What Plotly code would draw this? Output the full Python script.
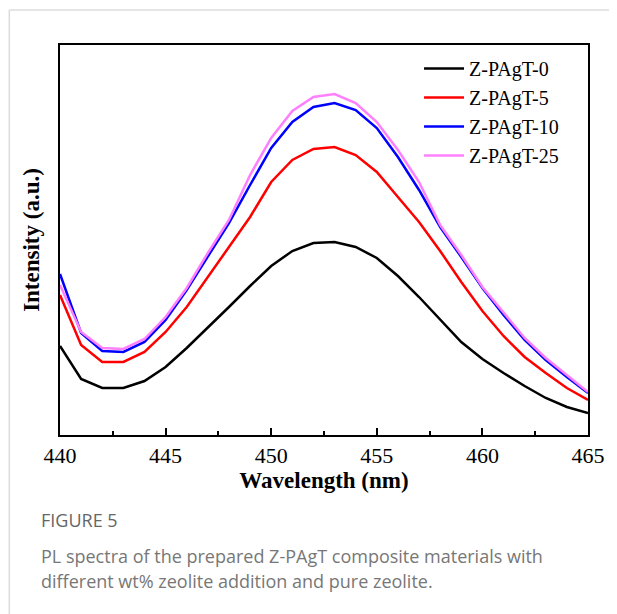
import plotly.graph_objects as go

# wavelength (nm) and PL intensity (a.u.)
wavelength = list(range(440, 466))
z_pagt_0 = [89, 56, 47, 47, 54, 68, 87, 107, 128, 149, 169, 184, 192, 193, 188, 177,
            159, 138, 115, 93, 76, 62, 49, 37, 28, 22]
z_pagt_5 = [140, 90, 73, 73, 83, 103, 128, 158, 188, 218, 253, 275, 286, 288, 280, 263,
            238, 213, 184, 153, 124, 99, 78, 62, 47, 35]
z_pagt_10 = [161, 102, 84, 83, 93, 115, 145, 178, 212, 250, 287, 313, 328, 332, 325, 307,
             278, 245, 208, 178, 147, 120, 95, 75, 58, 42]
z_pagt_25 = [150, 103, 87, 86, 96, 118, 147, 182, 215, 260, 297, 324, 338, 341, 332, 313,
             285, 253, 210, 180, 148, 122, 97, 77, 60, 43]

series = [
    ("Z-PAgT-0", z_pagt_0, "#000000"),
    ("Z-PAgT-5", z_pagt_5, "#ff0000"),
    ("Z-PAgT-10", z_pagt_10, "#0000ff"),
    ("Z-PAgT-25", z_pagt_25, "#ff80ff"),
]

serif = "Liberation Serif, Times New Roman, serif"
sans = "Open Sans, Noto Sans, sans-serif"

fig = go.Figure()
for name, vals, col in series:
    fig.add_trace(go.Scatter(x=wavelength, y=vals, mode="lines", name=name,
                             line=dict(color=col, width=2.5)))

# page body has an 8px margin, so the figure is 8px smaller than the window
fig.update_layout(
    width=609, height=606,
    margin=dict(l=52, r=27, t=37, b=179),
    paper_bgcolor="white", plot_bgcolor="white",
    showlegend=True,
    legend=dict(x=0.68, y=0.99, xanchor="left", yanchor="top",
                font=dict(family=serif, size=20, color="black"),
                bgcolor="rgba(0,0,0,0)", tracegroupgap=0, itemwidth=40),
    font=dict(family=serif, color="black"),
)

fig.update_xaxes(
    range=[440, 465], tickvals=[440, 445, 450, 455, 460, 465],
    ticks="inside", ticklen=7, tickwidth=1.5, tickcolor="black",
    minor=dict(tickvals=[442.5, 447.5, 452.5, 457.5, 462.5], ticks="inside",
               ticklen=4, tickwidth=1.5, tickcolor="black"),
    showline=True, linecolor="black", linewidth=1.5, mirror=True,
    showgrid=False, zeroline=False,
    tickfont=dict(family=serif, size=22, color="black"),
    title=dict(text="<b>Wavelength (nm)</b>", standoff=4,
               font=dict(family=serif, size=23, color="black")),
)
fig.update_yaxes(
    range=[0, 390], showticklabels=False, ticks="",
    showline=True, linecolor="black", linewidth=1.5, mirror=True,
    showgrid=False, zeroline=False,
    title=dict(text="<b>Intensity (a.u.)</b>", standoff=12,
               font=dict(family=serif, size=23, color="black")),
)

# card border (light grey, top and left)
fig.add_shape(type="line", xref="paper", yref="paper", x0=-0.096, x1=1.06,
              y0=1.0897, y1=1.0897, line=dict(color="#dcdcdc", width=1.5))
fig.add_shape(type="line", xref="paper", yref="paper", x0=-0.096, x1=-0.096,
              y0=-0.46, y1=1.0897, line=dict(color="#dcdcdc", width=1.5))

# caption
fig.add_annotation(text="FIGURE 5", xref="paper", yref="paper",
                   x=-0.04, y=-0.218, xanchor="left", yanchor="middle", showarrow=False,
                   font=dict(family=sans, size=18, color="#666666"))
fig.add_annotation(text="PL spectra of the prepared Z-PAgT composite materials with",
                   xref="paper", yref="paper", x=-0.04, y=-0.310,
                   xanchor="left", yanchor="middle", showarrow=False,
                   font=dict(family=sans, size=18, color="#777777"))
fig.add_annotation(text="different wt% zeolite addition and pure zeolite.",
                   xref="paper", yref="paper", x=-0.04, y=-0.374,
                   xanchor="left", yanchor="middle", showarrow=False,
                   font=dict(family=sans, size=18, color="#777777"))

fig.write_html("out.html")
